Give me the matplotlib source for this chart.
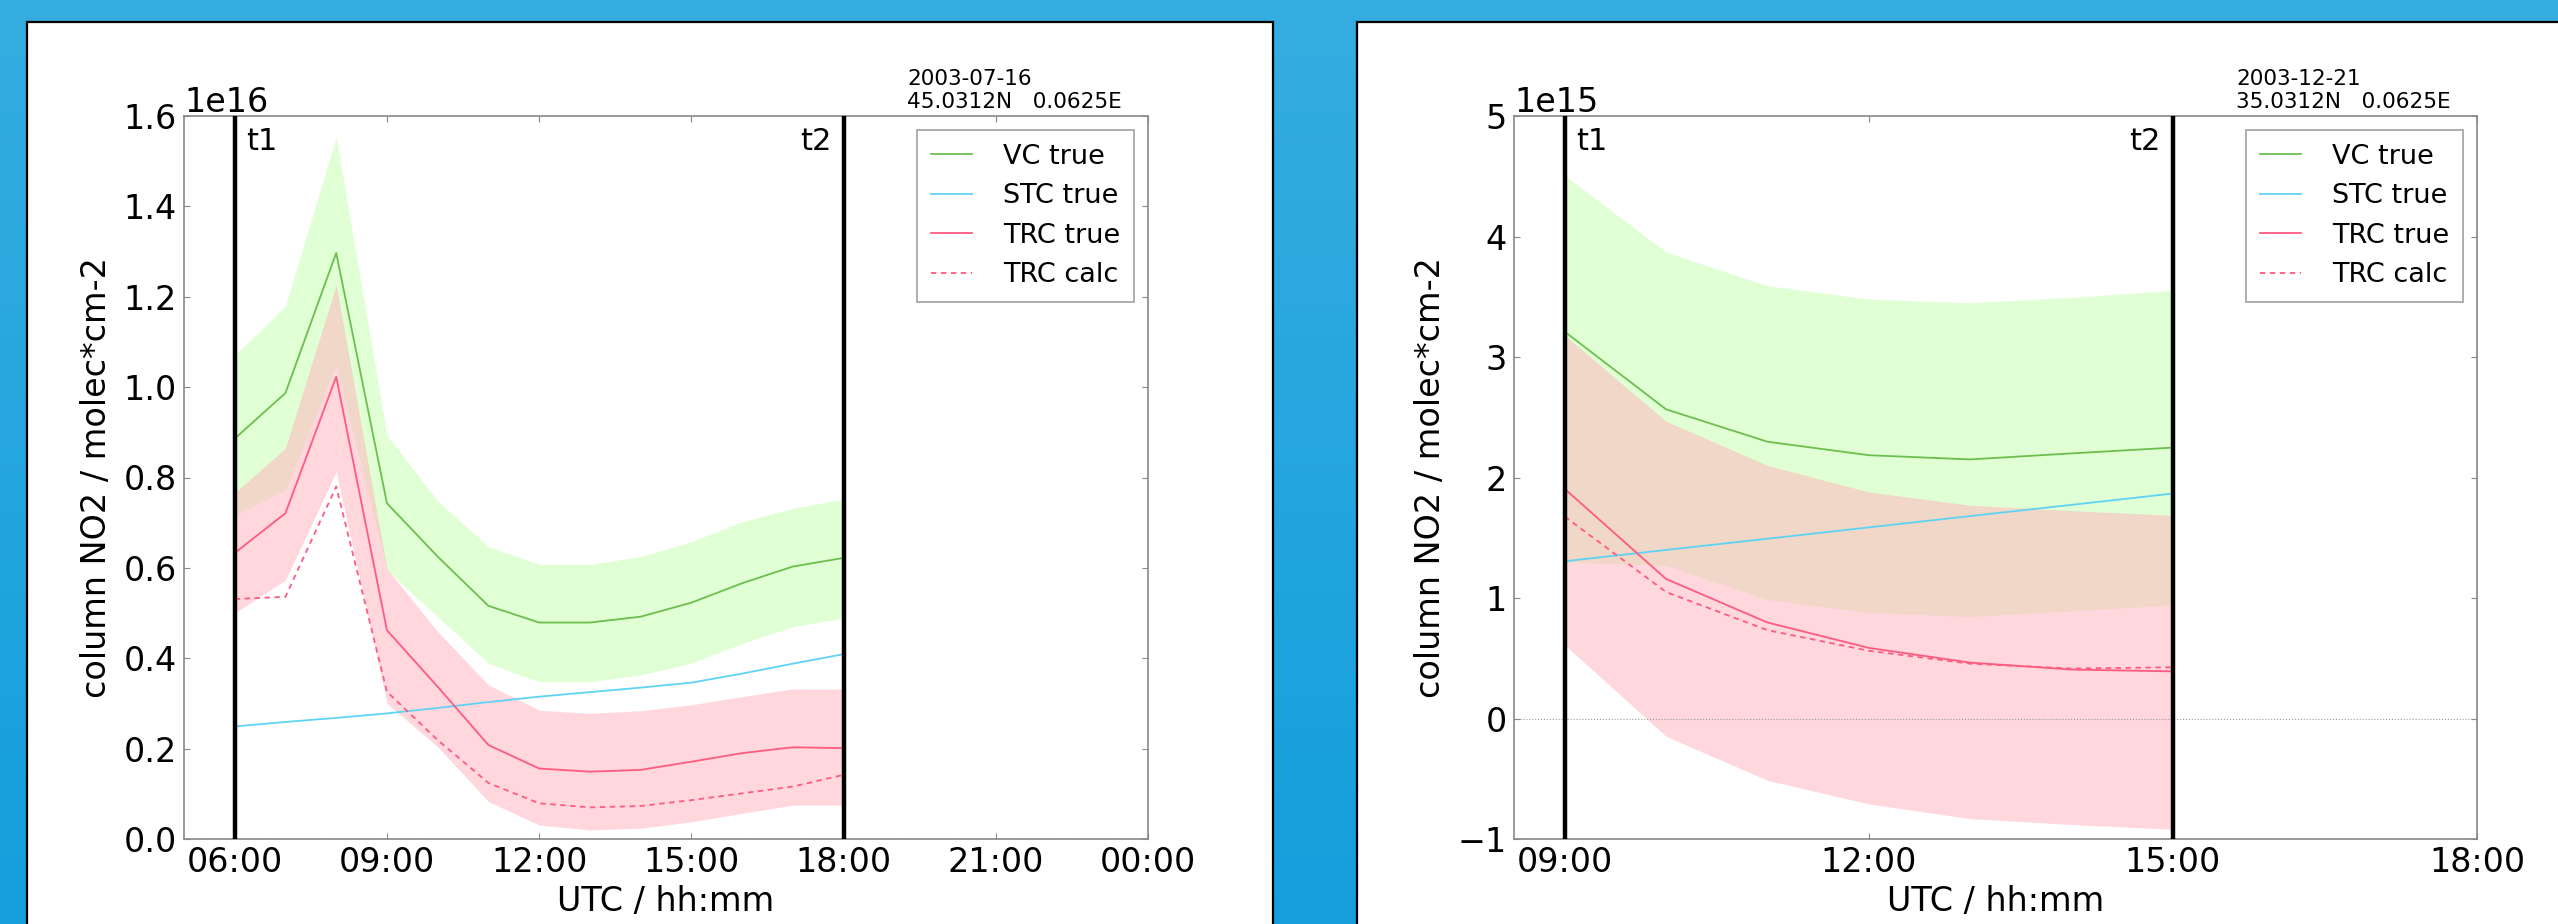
import numpy as np
import matplotlib
matplotlib.use('Agg')
import matplotlib.pyplot as plt
from matplotlib.patches import Rectangle
from matplotlib.ticker import FuncFormatter, MultipleLocator

# ---------------- data : left panel (2003-07-16), units 1e16 ----------------
hours_l = [6, 7, 8, 9, 10, 11, 12, 13, 14, 15, 16, 17, 18]
vc_l     = [0.886, 0.987, 1.297, 0.743, 0.625, 0.516, 0.479, 0.479, 0.492, 0.523, 0.566, 0.603, 0.622]
vc_hi_l  = [1.070, 1.180, 1.553, 0.894, 0.748, 0.647, 0.608, 0.608, 0.625, 0.658, 0.702, 0.732, 0.752]
vc_lo_l  = [0.717, 0.772, 1.050, 0.595, 0.492, 0.389, 0.348, 0.348, 0.363, 0.389, 0.433, 0.470, 0.489]
stc_l    = [0.249, 0.259, 0.268, 0.278, 0.290, 0.303, 0.315, 0.325, 0.335, 0.346, 0.366, 0.388, 0.409]
trc_l    = [0.633, 0.721, 1.023, 0.462, 0.337, 0.208, 0.156, 0.149, 0.153, 0.171, 0.190, 0.203, 0.201]
trc_hi_l = [0.766, 0.865, 1.226, 0.598, 0.459, 0.341, 0.285, 0.278, 0.284, 0.297, 0.315, 0.332, 0.332]
trc_lo_l = [0.500, 0.573, 0.813, 0.300, 0.204, 0.083, 0.031, 0.020, 0.024, 0.038, 0.057, 0.075, 0.075]
calc_l   = [0.531, 0.536, 0.780, 0.326, 0.219, 0.124, 0.079, 0.070, 0.073, 0.086, 0.101, 0.116, 0.142]
scale_l = 1e16
t1_l, t2_l = 6, 18
xlim_l = (5, 24)
ylim_l = (0, 1.6e16)
info_l = "2003-07-16\n45.0312N   0.0625E"

# ---------------- data : right panel (2003-12-21), units 1e15 ----------------
hours_r = [9, 10, 11, 12, 13, 14, 15]
vc_r     = [3.21, 2.566, 2.297, 2.185, 2.150, 2.200, 2.248]
vc_hi_r  = [4.506, 3.871, 3.592, 3.480, 3.450, 3.495, 3.553]
vc_lo_r  = [1.300, 1.270, 0.987, 0.880, 0.846, 0.894, 0.943]
stc_r    = [1.305, 1.399, 1.492, 1.586, 1.680, 1.773, 1.867]
trc_r    = [1.906, 1.158, 0.797, 0.586, 0.464, 0.406, 0.391]
trc_hi_r = [3.18, 2.468, 2.100, 1.880, 1.770, 1.725, 1.686]
trc_lo_r = [0.611, -0.147, -0.513, -0.709, -0.831, -0.880, -0.919]
calc_r   = [1.676, 1.050, 0.733, 0.562, 0.455, 0.415, 0.425]
scale_r = 1e15
t1_r, t2_r = 9, 15
xlim_r = (8.5, 18)
ylim_r = (-1e15, 5e15)
info_r = "2003-12-21\n35.0312N   0.0625E"

labels = ["VC true", "STC true", "TRC true", "TRC calc"]

# ---------------- styles ----------------
C_GREEN = '#6cbf4e'
C_CYAN = '#5fd3f3'
C_RED = '#ff5a80'
F_GREEN = '#64ff28'
F_RED = '#ffb4be'
SPINE = '#888888'

W, H = 2558, 924
fig = plt.figure(figsize=(W / 100, H / 100), dpi=100)

# background gradient + white panels
bg = fig.add_axes([0, 0, 1, 1], zorder=-10)
top = np.array([0x35, 0xAD, 0xE1]) / 255
bot = np.array([0x14, 0x9F, 0xDC]) / 255
t = np.linspace(0, 1, 256)[:, None, None]
grad = top[None, None, :] * (1 - t) + bot[None, None, :] * t
bg.imshow(np.repeat(grad, 2, axis=1), aspect='auto', extent=[0, 1, 0, 1],
          transform=bg.transAxes)
bg.set_xlim(0, 1)
bg.set_ylim(0, 1)
bg.axis('off')
for (x0, x1) in [(27, 1273), (1357, 2700)]:
    bg.add_patch(Rectangle((x0 / W, -0.1), (x1 - x0) / W, (924 - 22) / H + 0.1,
                           facecolor='white', edgecolor='black', linewidth=1.6,
                           transform=bg.transAxes))


def hhmm(v, pos):
    return '%02d:00' % (int(round(v)) % 24)


def panel(rect, hours, vc, vc_lo, vc_hi, stc, trc, trc_lo, trc_hi, calc, scale,
          t1, t2, xlim, ylim, yticks, info):
    ax = fig.add_axes(rect)
    h = np.array(hours, dtype=float)
    s = scale
    ax.fill_between(h, np.array(vc_lo) * s, np.array(vc_hi) * s,
                    color=F_GREEN, alpha=0.2, linewidth=0)
    ax.fill_between(h, np.array(trc_lo) * s, np.array(trc_hi) * s,
                    color=F_RED, alpha=0.52, linewidth=0)
    ax.plot(h, np.array(vc) * s, color=C_GREEN, lw=1.3, label=labels[0])
    ax.plot(h, np.array(stc) * s, color=C_CYAN, lw=1.3, label=labels[1])
    ax.plot(h, np.array(trc) * s, color=C_RED, lw=1.3, label=labels[2])
    ax.plot(h, np.array(calc) * s, color=C_RED, lw=1.3, ls=(0, (3, 2.5)),
            label=labels[3])
    ax.axhline(0, color='#999999', lw=0.8, ls=':', zorder=1)
    ax.axvline(t1, color='black', lw=3.2, zorder=5)
    ax.axvline(t2, color='black', lw=3.2, zorder=5)
    ax.annotate('t1', xy=(t1, 1), xycoords=ax.get_xaxis_transform(),
                xytext=(8, -8), textcoords='offset points', fontsize=22,
                ha='left', va='top')
    ax.annotate('t2', xy=(t2, 1), xycoords=ax.get_xaxis_transform(),
                xytext=(-9, -8), textcoords='offset points', fontsize=22,
                ha='right', va='top')
    ax.text(0.75, 1.005, info, transform=ax.transAxes, fontsize=15.5,
            ha='left', va='bottom', linespacing=1.2)
    ax.set_xlim(*xlim)
    ax.set_ylim(*ylim)
    ax.xaxis.set_major_locator(MultipleLocator(3))
    ax.xaxis.set_major_formatter(FuncFormatter(hhmm))
    ax.set_yticks(yticks)
    ax.tick_params(direction='in', top=True, right=True, length=4,
                   width=0.8, color=SPINE, labelsize=24, pad=5)
    ax.yaxis.get_offset_text().set_fontsize(24)
    for sp in ax.spines.values():
        sp.set_color(SPINE)
        sp.set_linewidth(1.2)
    ax.set_xlabel('UTC / hh:mm', fontsize=24, labelpad=4)
    ax.set_ylabel('column NO2 / molec*cm-2', fontsize=24, labelpad=8)
    leg = ax.legend(loc='upper right', fontsize=19.5, frameon=True, fancybox=False,
                    handlelength=1.5, handletextpad=1.15, borderpad=0.52,
                    labelspacing=0.5, borderaxespad=0.5)
    leg.get_frame().set_edgecolor(SPINE)
    leg.get_frame().set_linewidth(1.2)
    return ax


ax_l = panel([184 / W, 85 / H, 964 / W, 723 / H], hours_l, vc_l, vc_lo_l, vc_hi_l,
             stc_l, trc_l, trc_lo_l, trc_hi_l, calc_l, scale_l, t1_l, t2_l,
             xlim_l, ylim_l, np.arange(0, 1.61e16, 0.2e16), info_l)
ax_r = panel([1514 / W, 85 / H, 963 / W, 723 / H], hours_r, vc_r, vc_lo_r, vc_hi_r,
             stc_r, trc_r, trc_lo_r, trc_hi_r, calc_r, scale_r, t1_r, t2_r,
             xlim_r, ylim_r, np.arange(-1e15, 5.1e15, 1e15), info_r)

fig.savefig('out.png', dpi=100)
